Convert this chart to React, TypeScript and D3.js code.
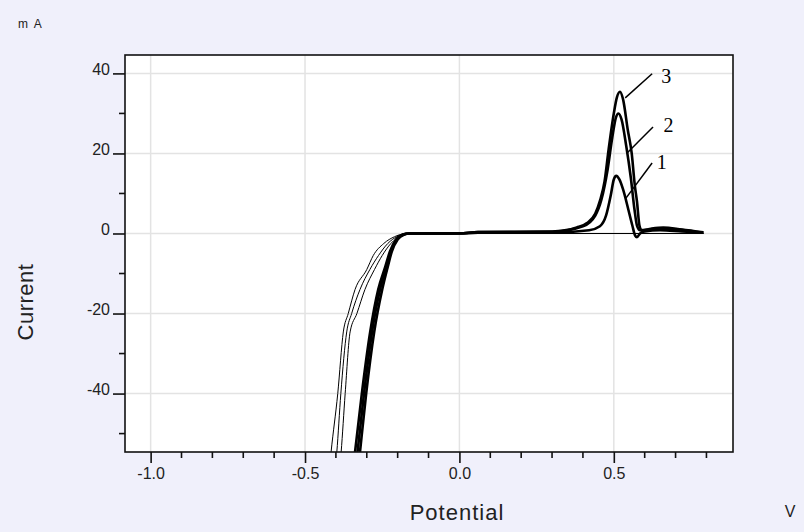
import React, { useEffect, useRef } from 'react';
import * as d3 from 'd3';

// [potential (V), current (mA)]
const thin1 = [[-0.425, -62], [-0.4156, -54.6], [-0.394, -40], [-0.376, -24.6], [-0.36, -20], [-0.338, -14], [-0.3, -9], [-0.279, -5.5], [-0.245, -2.5], [-0.21, -0.8], [-0.18, -0.1], [-0.15, 0], [0.2, 0], [0.57, 0], [0.79, 0]];
const thin2 = [[-0.406, -62], [-0.397, -54.6], [-0.384, -40], [-0.365, -24.6], [-0.349, -20], [-0.322, -14], [-0.29, -9], [-0.262, -5.5], [-0.232, -2.5], [-0.2, -0.7], [-0.17, 0], [0.2, 0], [0.57, 0], [0.79, 0]];
const thin3 = [[-0.392, -62], [-0.383, -54.6], [-0.37, -40], [-0.354, -24.6], [-0.332, -20], [-0.306, -14], [-0.275, -9], [-0.25, -5.5], [-0.222, -2.5], [-0.19, -0.6], [-0.16, 0], [0.2, 0], [0.57, 0], [0.79, 0]];

const curve1 = [[-0.348, -62], [-0.338, -54.6], [-0.316, -40], [-0.289, -24.6], [-0.263, -14], [-0.24, -8.3], [-0.225, -4.5], [-0.205, -1.5], [-0.185, -0.3], [-0.165, 0], [0.0, 0], [0.06, 0.2], [0.3, 0.2], [0.42, 0.8], [0.455, 1.8], [0.475, 4.5], [0.49, 9.5], [0.5, 13.5], [0.508, 14.4], [0.518, 13.5], [0.53, 11], [0.547, 6], [0.56, 2], [0.569, -0.5], [0.575, -0.9], [0.585, 0], [0.6, 0.5], [0.65, 0.8], [0.72, 0.5], [0.79, 0.2]];
const curve2 = [[-0.34, -62], [-0.33, -54.6], [-0.309, -40], [-0.283, -24.6], [-0.257, -14], [-0.236, -8.3], [-0.222, -4.5], [-0.203, -1.5], [-0.183, -0.3], [-0.163, 0], [0.0, 0], [0.06, 0.35], [0.3, 0.4], [0.4, 1.8], [0.44, 4.5], [0.46, 8.5], [0.48, 16], [0.495, 24], [0.507, 29], [0.515, 30], [0.525, 28.5], [0.54, 22], [0.555, 14], [0.567, 6], [0.575, 2], [0.585, 0.8], [0.62, 1], [0.68, 1.2], [0.75, 0.6], [0.79, 0.2]];
const curve3 = [[-0.332, -62], [-0.322, -54.6], [-0.302, -40], [-0.276, -24.6], [-0.25, -14], [-0.232, -8.3], [-0.219, -4.5], [-0.2, -1.5], [-0.18, -0.3], [-0.16, 0], [0.0, 0.05], [0.06, 0.35], [0.3, 0.5], [0.38, 1.5], [0.413, 2.6], [0.44, 5], [0.456, 8.4], [0.47, 13], [0.483, 20.9], [0.5, 30], [0.51, 34], [0.52, 35.4], [0.53, 33.5], [0.545, 26], [0.558, 20], [0.568, 12], [0.575, 8], [0.583, 2], [0.59, 0.8], [0.62, 1.2], [0.66, 1.5], [0.72, 1.0], [0.79, 0.3]];

const xTicks = [-1.0, -0.5, 0.0, 0.5];
const xMinor = [-0.9, -0.8, -0.7, -0.6, -0.4, -0.3, -0.2, -0.1, 0.1, 0.2, 0.3, 0.4, 0.6, 0.7, 0.8];
const yTicks = [40, 20, 0, -20, -40];
const yMinor = [30, 10, -10, -30, -50];

// curve labels: text, text position, leader line from / to
const labelText = ['3', '2', '1'];
const labelAt = [[0.67, 37.6], [0.677, 25.4], [0.655, 16.1]];
const leaderFrom = [[0.624, 39.9], [0.627, 26.6], [0.624, 17.6]];
const leaderTo = [[0.537, 33.9], [0.543, 20.1], [0.54, 8.9]];

export default function App() {
  const ref = useRef(null);

  useEffect(() => {
    const width = 804;
    const height = 532;
    const margin = { top: 55, right: 71, bottom: 80, left: 125 };
    const sans = "'Liberation Sans', Arial, sans-serif";

    const svg = d3.select(ref.current);
    svg.selectAll('*').remove();

    const x = d3.scaleLinear([-1.083, 0.886], [margin.left, width - margin.right]);
    const y = d3.scaleLinear([-54.6, 44.6], [height - margin.bottom, margin.top]);

    svg.append('rect').attr('width', width).attr('height', height).attr('fill', '#f0f0fb');
    svg
      .append('rect')
      .attr('x', margin.left)
      .attr('y', margin.top)
      .attr('width', width - margin.left - margin.right)
      .attr('height', height - margin.top - margin.bottom)
      .attr('fill', '#fff');

    // grid
    const grid = svg.append('g').attr('stroke', '#e3e3e3').attr('stroke-width', 1.5);
    grid
      .selectAll('line.gx')
      .data(xTicks)
      .join('line')
      .attr('x1', (d) => x(d))
      .attr('x2', (d) => x(d))
      .attr('y1', margin.top)
      .attr('y2', height - margin.bottom);
    grid
      .selectAll('line.gy')
      .data(yTicks)
      .join('line')
      .attr('class', 'gy')
      .attr('x1', margin.left)
      .attr('x2', width - margin.right)
      .attr('y1', (d) => y(d))
      .attr('y2', (d) => y(d));

    // curves
    svg
      .append('clipPath')
      .attr('id', 'plot-clip')
      .append('rect')
      .attr('x', margin.left)
      .attr('y', margin.top)
      .attr('width', width - margin.left - margin.right)
      .attr('height', height - margin.top - margin.bottom);

    const line = d3
      .line()
      .x((d) => x(d[0]))
      .y((d) => y(d[1]))
      .curve(d3.curveMonotoneX);

    const plot = svg.append('g').attr('clip-path', 'url(#plot-clip)').attr('fill', 'none').attr('stroke', '#000');
    [thin1, thin2, thin3].forEach((c) => {
      plot.append('path').attr('d', line(c)).attr('stroke-width', 1);
    });
    [curve1, curve2, curve3].forEach((c) => {
      plot.append('path').attr('d', line(c)).attr('stroke-width', 2.6).attr('stroke-linejoin', 'round');
    });

    // frame
    svg
      .append('rect')
      .attr('x', margin.left)
      .attr('y', margin.top)
      .attr('width', width - margin.left - margin.right)
      .attr('height', height - margin.top - margin.bottom)
      .attr('fill', 'none')
      .attr('stroke', '#111')
      .attr('stroke-width', 1.6);

    // axes
    const xAxis = svg
      .append('g')
      .attr('transform', `translate(0,${height - margin.bottom})`)
      .call(d3.axisBottom(x).tickValues(xTicks).tickSize(11).tickPadding(5).tickFormat((d) => d.toFixed(1)));
    xAxis
      .selectAll('.tick')
      .filter(() => false);
    xAxis
      .append('g')
      .selectAll('line')
      .data(xMinor)
      .join('line')
      .attr('x1', (d) => x(d))
      .attr('x2', (d) => x(d))
      .attr('y1', 0)
      .attr('y2', 6);

    const yAxis = svg
      .append('g')
      .attr('transform', `translate(${margin.left},0)`)
      .call(d3.axisLeft(y).tickValues(yTicks).tickSize(12).tickPadding(3).tickFormat((d) => String(d)));
    yAxis.selectAll('.tick text').attr('dy', '0.05em');
    yAxis
      .append('g')
      .selectAll('line')
      .data(yMinor)
      .join('line')
      .attr('x1', -6)
      .attr('x2', 0)
      .attr('y1', (d) => y(d))
      .attr('y2', (d) => y(d));

    [xAxis, yAxis].forEach((a) => {
      a.select('.domain').remove();
      a.selectAll('line').attr('stroke', '#111').attr('stroke-width', 1.6);
      a.selectAll('text').attr('font-family', sans).attr('font-size', 16).attr('fill', '#222');
    });

    // titles
    svg
      .append('text')
      .attr('x', 18)
      .attr('y', 28)
      .attr('font-family', sans)
      .attr('font-size', 12)
      .attr('letter-spacing', 1.5)
      .attr('fill', '#222')
      .text('m A');
    svg
      .append('text')
      .attr('x', 457)
      .attr('y', 520)
      .attr('text-anchor', 'middle')
      .attr('font-family', sans)
      .attr('font-size', 22)
      .attr('letter-spacing', 1)
      .attr('fill', '#222')
      .text('Potential');
    svg
      .append('text')
      .attr('x', 790)
      .attr('y', 517)
      .attr('text-anchor', 'middle')
      .attr('font-family', sans)
      .attr('font-size', 16)
      .attr('fill', '#222')
      .text('V');
    svg
      .append('text')
      .attr('transform', 'translate(33,302) rotate(-90)')
      .attr('text-anchor', 'middle')
      .attr('font-family', sans)
      .attr('font-size', 22)
      .attr('letter-spacing', 0.5)
      .attr('fill', '#222')
      .text('Current');

    // curve labels
    const notes = svg.append('g');
    labelText.forEach((t, i) => {
      notes
        .append('line')
        .attr('x1', x(leaderFrom[i][0]))
        .attr('y1', y(leaderFrom[i][1]))
        .attr('x2', x(leaderTo[i][0]))
        .attr('y2', y(leaderTo[i][1]))
        .attr('stroke', '#000')
        .attr('stroke-width', 1.5);
      notes
        .append('text')
        .attr('x', x(labelAt[i][0]))
        .attr('y', y(labelAt[i][1]))
        .attr('text-anchor', 'middle')
        .attr('font-family', "'Liberation Serif', 'Times New Roman', serif")
        .attr('font-size', 20)
        .attr('fill', '#000')
        .text(t);
    });
  }, []);

  return (
    <svg
      ref={ref}
      width={804}
      height={532}
      style={{ position: 'absolute', left: 0, top: 0, display: 'block' }}
    />
  );
}
